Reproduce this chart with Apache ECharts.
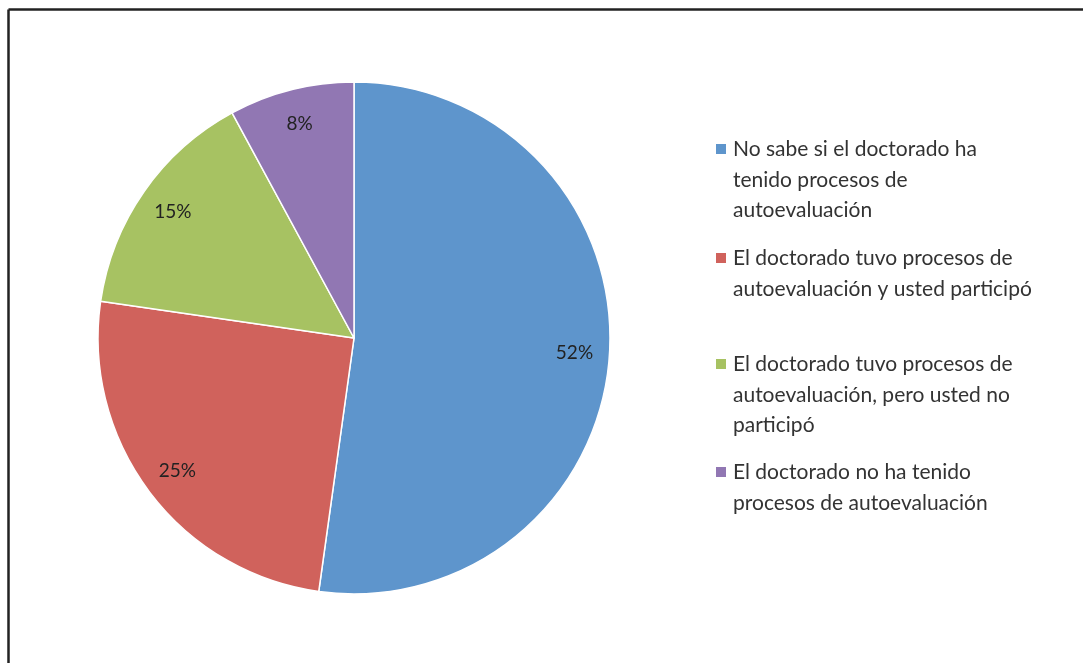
<!DOCTYPE html>
<html>
<head>
<meta charset="utf-8">
<script src="https://cdn.jsdelivr.net/npm/echarts@6/dist/echarts.min.js"></script>
<style>html,body{margin:0;padding:0;background:#fff;}#c{width:1083px;height:663px;}</style>
</head>
<body>
<div id="c"></div>
<script>
var categories = [
  "No sabe si el doctorado ha\ntenido procesos de\nautoevaluación",
  "El doctorado tuvo procesos de\nautoevaluación y usted participó",
  "El doctorado tuvo procesos de\nautoevaluación, pero usted no\nparticipó",
  "El doctorado no ha tenido\nprocesos de autoevaluación"
];
var values = [52.2, 25.1, 14.8, 7.9];
var colors = ["#5E95CC", "#D0625C", "#A7C262", "#9177B3"];
var legendTops = [149, 258, 364, 472];

var data = categories.map(function (c, i) {
  return { name: c, value: values[i], itemStyle: { color: colors[i] } };
});
var total = values.reduce(function (a, b) { return a + b; }, 0);

var graphics = [
  { type: 'line', shape: { x1: 8.5, y1: 9.5, x2: 1083, y2: 9.5 }, style: { stroke: '#222', lineWidth: 2.5 } },
  { type: 'line', shape: { x1: 8.5, y1: 9.5, x2: 8.5, y2: 663 }, style: { stroke: '#222', lineWidth: 2.5 } }
];
categories.forEach(function (c, i) {
  graphics.push({ type: 'rect', shape: { x: 716, y: legendTops[i] - 5, width: 10, height: 10 }, style: { fill: colors[i] } });
  graphics.push({ type: 'text', x: 733, y: legendTops[i] - 15, style: { text: c, font: '21px Lato', fill: '#333', lineHeight: 30.5, verticalAlign: 'top' } });
});

var chart = echarts.init(document.getElementById('c'));
chart.setOption({
  backgroundColor: '#fff',
  animation: false,
  graphic: graphics,
  series: [
    {
      type: 'pie', center: [354, 338], radius: 256, startAngle: 90, clockwise: true,
      data: data, label: { show: false }, labelLine: { show: false },
      itemStyle: { borderColor: '#fff', borderWidth: 1.5 }, silent: true
    },
    {
      type: 'pie', center: [354, 338], radius: [196, 240], startAngle: 90, clockwise: true,
      data: data.map(function (d) { return { name: d.name, value: d.value, itemStyle: { color: 'rgba(0,0,0,0)' } }; }),
      label: { show: true, position: 'inside', formatter: function (p) { return Math.round(p.value / total * 100) + '%'; },
               fontFamily: 'Lato', fontSize: 19, color: '#222' },
      labelLine: { show: false }, silent: true, emphasis: { disabled: true }
    }
  ]
});
</script>
</body>
</html>
